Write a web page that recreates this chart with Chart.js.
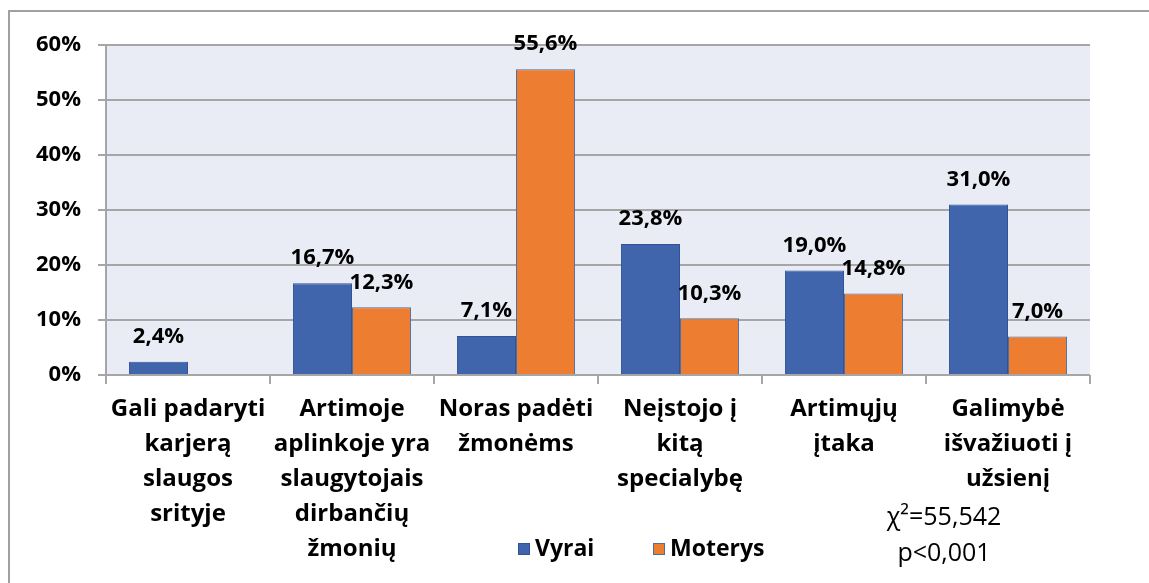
<!DOCTYPE html>
<html>
<head>
<meta charset="utf-8">
<script src="https://cdn.jsdelivr.net/npm/chart.js@4.4.1/dist/chart.umd.min.js"></script>
<style>
  html, body { margin: 0; padding: 0; background: #fff; }
  #wrap { width: 1149px; height: 583px; position: relative; }
</style>
</head>
<body>
<div id="wrap"><canvas id="chart" width="1149" height="583"></canvas></div>
<script>
// ------------------
// data
// ------------------
const categories = [
  ["Gali padaryti", "karjerą", "slaugos", "srityje"],
  ["Artimoje", "aplinkoje yra", "slaugytojais", "dirbančių", "žmonių"],
  ["Noras padėti", "žmonėms"],
  ["Neįstojo į", "kitą", "specialybę"],
  ["Artimųjų", "įtaka"],
  ["Galimybė", "išvažiuoti į", "užsienį"]
];
const seriesNames = ["Vyrai", "Moterys"];
const vyrai = [2.4, 16.7, 7.1, 23.8, 19.0, 31.0];
const moterys = [null, 12.3, 55.6, 10.3, 14.8, 7.0];
const yTicks = [0, 10, 20, 30, 40, 50, 60];
const statLines = ["χ²=55,542", "p<0,001"];

const FONT = "'Open Sans', 'Noto Sans', sans-serif";
const GRID = "#A6A6A6";

function fmt(v) {
  return v.toFixed(1).replace(".", ",") + "%";
}

// ------------------
// plugins
// ------------------
const framePlugin = {
  id: "frame",
  beforeDraw(chart) {
    const ctx = chart.ctx;
    const a = chart.chartArea;
    ctx.save();
    ctx.fillStyle = "#E9EBF5";
    ctx.fillRect(a.left, a.top, a.right - a.left, a.bottom - a.top);
    ctx.strokeStyle = "#A0A0A0";
    ctx.lineWidth = 2;
    ctx.beginPath();
    ctx.moveTo(9, 583);
    ctx.lineTo(9, 11);
    ctx.lineTo(1149, 11);
    ctx.stroke();
    ctx.restore();
  }
};

const labelPlugin = {
  id: "valueLabels",
  afterDatasetsDraw(chart) {
    const ctx = chart.ctx;
    ctx.save();
    ctx.font = "bold 22px " + FONT;
    ctx.fillStyle = "#000";
    ctx.textAlign = "center";
    ctx.textBaseline = "middle";
    chart.data.datasets.forEach((ds, i) => {
      chart.getDatasetMeta(i).data.forEach((bar, j) => {
        const v = ds.data[j];
        if (v === null || v === undefined) return;
        ctx.fillText(fmt(v), bar.x, bar.y - 25);
      });
    });
    ctx.restore();
  }
};

const legendPlugin = {
  id: "bottomLegend",
  afterDraw(chart) {
    const ctx = chart.ctx;
    const spots = [518, 653];
    ctx.save();
    ctx.font = "bold 23px " + FONT;
    ctx.textBaseline = "middle";
    chart.data.datasets.forEach((ds, i) => {
      const x = spots[i];
      ctx.fillStyle = ds.backgroundColor;
      ctx.fillRect(x, 543, 12, 12);
      ctx.strokeStyle = ds.borderColor;
      ctx.lineWidth = 1;
      ctx.strokeRect(x + 0.5, 543.5, 11, 11);
      ctx.fillStyle = "#000";
      ctx.fillText(ds.label, x + 17, 549);
    });
    // chi-square note
    ctx.font = "25px " + FONT;
    ctx.textAlign = "center";
    ctx.textBaseline = "alphabetic";
    ctx.fillText(statLines[0], 944, 525);
    ctx.fillText(statLines[1], 944, 561);
    ctx.restore();
  }
};

// ------------------
// chart
// ------------------
new Chart(document.getElementById("chart"), {
  type: "bar",
  data: {
    labels: categories,
    datasets: [
      {
        label: seriesNames[0],
        data: vyrai,
        backgroundColor: "#4065AC",
        borderColor: "#2F5597",
        borderWidth: 1
      },
      {
        label: seriesNames[1],
        data: moterys,
        backgroundColor: "#ED7D31",
        borderColor: "#4A6FA5",
        borderWidth: 1
      }
    ]
  },
  options: {
    responsive: false,
    animation: false,
    layout: { padding: { left: 0, top: 45, right: 59, bottom: 0 } },
    categoryPercentage: 0.72,
    barPercentage: 1.0,
    plugins: {
      legend: { display: false },
      tooltip: { enabled: false }
    },
    scales: {
      x: {
        afterFit(scale) { scale.height = 208; },
        grid: {
          offset: true,
          drawOnChartArea: false,
          drawTicks: true,
          tickLength: 9,
          color: GRID,
          lineWidth: 2
        },
        border: { display: false },
        ticks: {
          color: "#000",
          maxRotation: 0,
          autoSkip: false,
          padding: 8,
          font: { family: FONT, size: 24, weight: "bold", lineHeight: "35px" }
        }
      },
      y: {
        min: yTicks[0],
        max: yTicks[yTicks.length - 1],
        afterFit(scale) { scale.width = 106; },
        afterBuildTicks(scale) {
          scale.ticks = yTicks.map(v => ({ value: v }));
        },
        grid: {
          color: GRID,
          lineWidth: 2,
          tickLength: 8
        },
        border: { display: true, color: GRID, width: 2 },
        ticks: {
          color: "#000",
          padding: 17,
          font: { family: FONT, size: 22, weight: "bold" },
          callback: v => v + "%"
        }
      }
    }
  },
  plugins: [framePlugin, labelPlugin, legendPlugin]
});
</script>
</body>
</html>
